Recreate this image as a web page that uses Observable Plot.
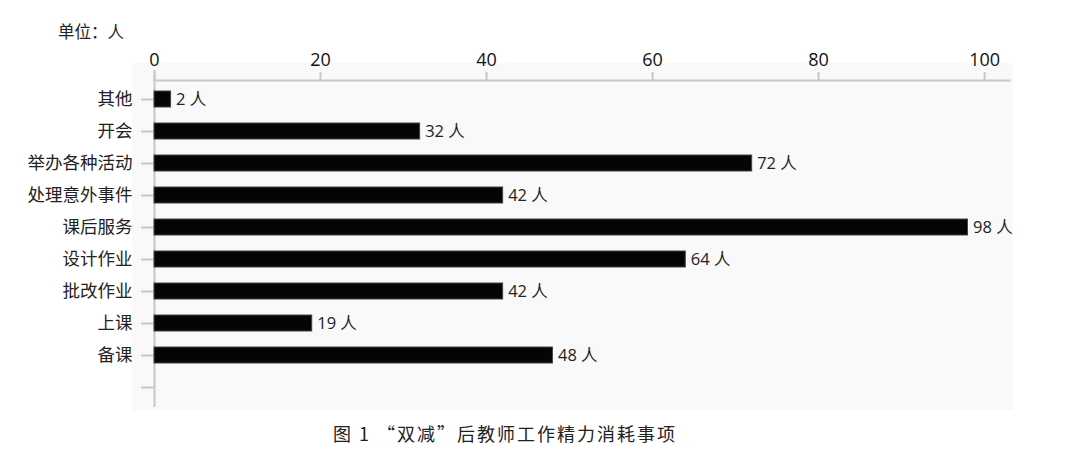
<!DOCTYPE html>
<html><head><meta charset="utf-8">
<script src="https://cdn.jsdelivr.net/npm/d3@7"></script>
<script src="https://cdn.jsdelivr.net/npm/@observablehq/plot@0.6"></script>
<style>
body{margin:0;background:#fff;font-family:"Noto Sans CJK SC","Open Sans",sans-serif;}
#wrap{position:relative;width:1069px;height:458px;}
#panel{position:absolute;left:132px;top:63px;width:881px;height:347px;background:#f9f9f9;}
#chart{position:absolute;left:0;top:0;}
#unit{position:absolute;left:58px;top:19px;font-size:16.5px;color:#222;}
#caption{position:absolute;left:333px;top:420px;font-size:18px;color:#222;letter-spacing:2px;white-space:nowrap;}
</style></head>
<body>
<div id="wrap">
<div id="panel"></div>
<div id="chart"></div>
<div id="unit">单位：人</div>
<div id="caption">图 1 “双减”后教师工作精力消耗事项</div>
</div>
<script>
const categories = ["其他","开会","举办各种活动","处理意外事件","课后服务","设计作业","批改作业","上课","备课"];
const values = [2,32,72,42,98,64,42,19,48];
const xTicks = [0,20,40,60,80,100];
const unitLabel = "人";

const data = categories.map((c,i)=>({cat:c, v:values[i]}));
const yDomain = [...categories, ""];

const plot = Plot.plot({
  width: 1069,
  height: 420,
  marginTop: 80,
  marginBottom: 15,
  marginLeft: 154,
  marginRight: 60,
  style: {background:"transparent", fontFamily:"'Noto Sans CJK SC','Open Sans',sans-serif", color:"#222"},
  x: {domain:[0,103], axis:null},
  y: {domain:yDomain, paddingInner:0.5, paddingOuter:0.25, axis:null},
  marks: [
    Plot.ruleX([0], {stroke:"#c8c8c8", strokeWidth:2, insetTop:-10, insetBottom:-2}),
    Plot.frame({anchor:"top", stroke:"#c8c8c8", strokeWidth:2}),
    Plot.axisX(xTicks, {anchor:"top", tickSize:9, tickPadding:6, stroke:"#c8c8c8", strokeWidth:2, fontSize:18, fill:"#111", fontFamily:"'Open Sans',sans-serif", label:null, tickFormat:d=>String(d)}),
    Plot.axisY(yDomain, {anchor:"left", tickSize:13, tickPadding:9, stroke:"#c8c8c8", strokeWidth:2, fontSize:17.5, fill:"#222", label:null}),
    Plot.barX(data, {x:"v", y:"cat", fill:"#050505", stroke:"#444", strokeWidth:1}),
    Plot.text(data, {x:"v", y:"cat", text:d=>`${d.v} ${unitLabel}`, textAnchor:"start", dx:5, fontSize:16.5, fill:"#222", fontFamily:"'Open Sans','Noto Sans CJK SC',sans-serif"})
  ]
});
document.getElementById("chart").appendChild(plot);
</script>
</body></html>
